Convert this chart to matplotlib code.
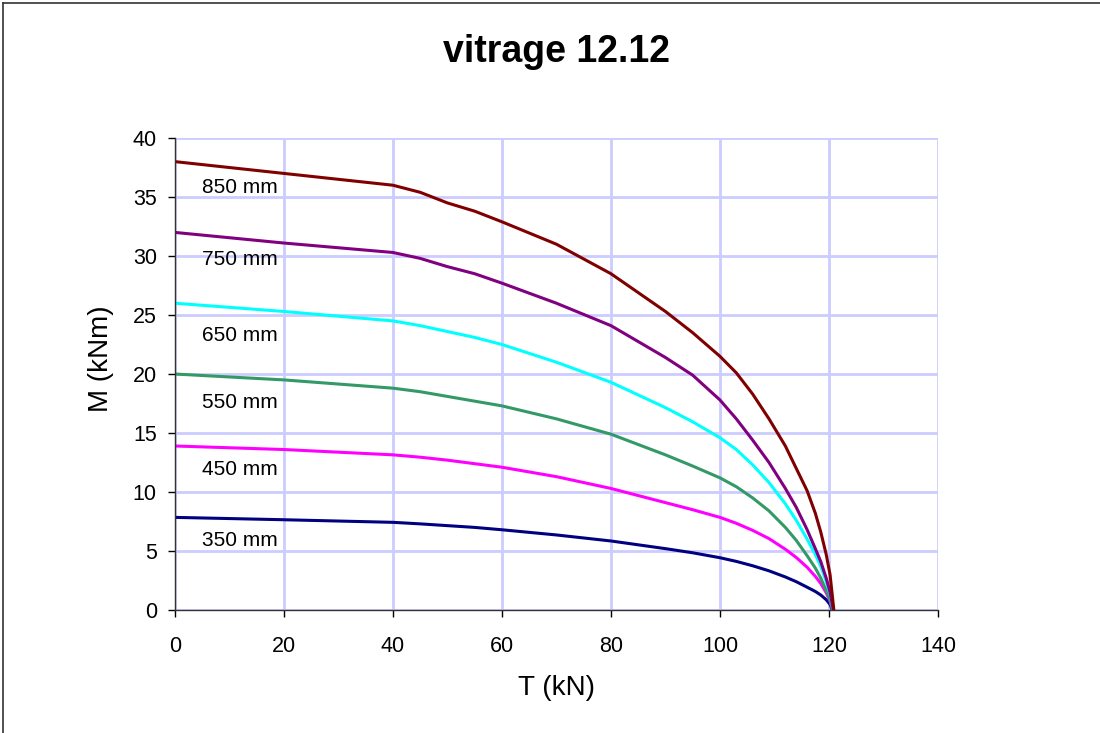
import matplotlib
matplotlib.use("Agg")
import matplotlib.pyplot as plt
from matplotlib.lines import Line2D

plt.rcParams['font.family'] = ['Liberation Sans', 'DejaVu Sans']

# effort normal T (kN), common sampling points
t_pts = [0, 20, 40, 45, 50, 55, 60, 70, 80, 90, 95, 100, 103, 106, 109, 112,
         114, 116, 117.5, 118.5, 119.5, 120.2]

# moment M (kNm) for each glazing width
m_350 = [7.85, 7.65, 7.43, 7.3, 7.15, 7.0, 6.8, 6.36, 5.85, 5.2, 4.85, 4.43, 4.12, 3.75, 3.32, 2.8,
         2.4, 1.93, 1.57, 1.27, 0.87, 0.47]
m_450 = [13.9, 13.6, 13.15, 12.95, 12.7, 12.4, 12.1, 11.3, 10.3, 9.1, 8.5, 7.85, 7.35, 6.75, 6.05, 5.15,
         4.45, 3.62, 2.85, 2.25, 1.45, 0.75]
m_550 = [20.0, 19.5, 18.8, 18.5, 18.1, 17.7, 17.3, 16.2, 14.9, 13.15, 12.2, 11.2, 10.45, 9.5, 8.4, 7.0,
         5.9, 4.6, 3.55, 2.7, 1.65, 0.85]
m_650 = [26.0, 25.3, 24.5, 24.1, 23.6, 23.1, 22.5, 21.0, 19.3, 17.15, 15.95, 14.6, 13.6, 12.3, 10.8, 9.0,
         7.6, 6.0, 4.7, 3.7, 2.4, 1.35]
m_750 = [32.0, 31.1, 30.3, 29.8, 29.1, 28.5, 27.7, 26.0, 24.1, 21.4, 19.9, 17.8, 16.2, 14.4, 12.5, 10.3,
         8.7, 6.8, 5.2, 4.1, 2.7, 1.5]
m_850 = [38.0, 37.0, 36.0, 35.4, 34.5, 33.8, 32.9, 31.0, 28.5, 25.3, 23.5, 21.5, 20.1, 18.3, 16.2, 13.9,
         12.0, 10.1, 8.2, 6.6, 4.7, 3.0]

# ultimate traction (M = 0) for each curve
t_end = [120.6, 120.7, 120.7, 120.8, 120.8, 120.9]

labels = ['350 mm', '450 mm', '550 mm', '650 mm', '750 mm', '850 mm']
label_y = [5.9, 11.9, 17.6, 23.3, 29.7, 35.8]
colors = ['#000080', '#FF00FF', '#339966', '#00FFFF', '#800080', '#800000']
series = [m_350, m_450, m_550, m_650, m_750, m_850]

fig = plt.figure(figsize=(11, 7.33), dpi=100)
ax = fig.add_axes([0.159, 0.1678, 0.6937, 0.6439])

for m, te, c in zip(series, t_end, colors):
    ax.plot(t_pts + [te], m + [0], color=c, lw=2.2, solid_joinstyle='round')

for lab, y in zip(labels, label_y):
    ax.text(5.0, y, lab, fontsize=15, va='center', ha='left')

ax.set_xlim(0, 140)
ax.set_ylim(0, 40)
ax.set_xticks(range(0, 141, 20))
ax.set_yticks(range(0, 41, 5))
ax.grid(True, color='#CCCCFF', lw=2.0)
ax.set_axisbelow(True)
for s in ['top', 'right']:
    ax.spines[s].set_visible(False)
for s in ['left', 'bottom']:
    ax.spines[s].set_color('#333333')
    ax.spines[s].set_linewidth(1.0)
ax.tick_params(axis='x', length=5, width=1, labelsize=15.5, pad=14, colors='#000000')
ax.tick_params(axis='y', length=5, width=1, labelsize=15.5, pad=8, colors='#000000')

fig.text(0.506, 0.929, 'vitrage 12.12', fontsize=27, fontweight='bold', ha='center', va='center')
fig.text(0.506, 0.061, 'T (kN)', fontsize=20, ha='center', va='center')
fig.text(0.092, 0.511, 'M (kNm)', fontsize=20, ha='center', va='center', rotation=90)

# chart border (only left and top edges visible in the frame)
fig.add_artist(Line2D([0.003, 0.003], [0.0, 0.996], color='#333333', lw=1.2, transform=fig.transFigure))
fig.add_artist(Line2D([0.003, 1.0], [0.996, 0.996], color='#333333', lw=1.2, transform=fig.transFigure))

fig.savefig('out.png', dpi=100)
